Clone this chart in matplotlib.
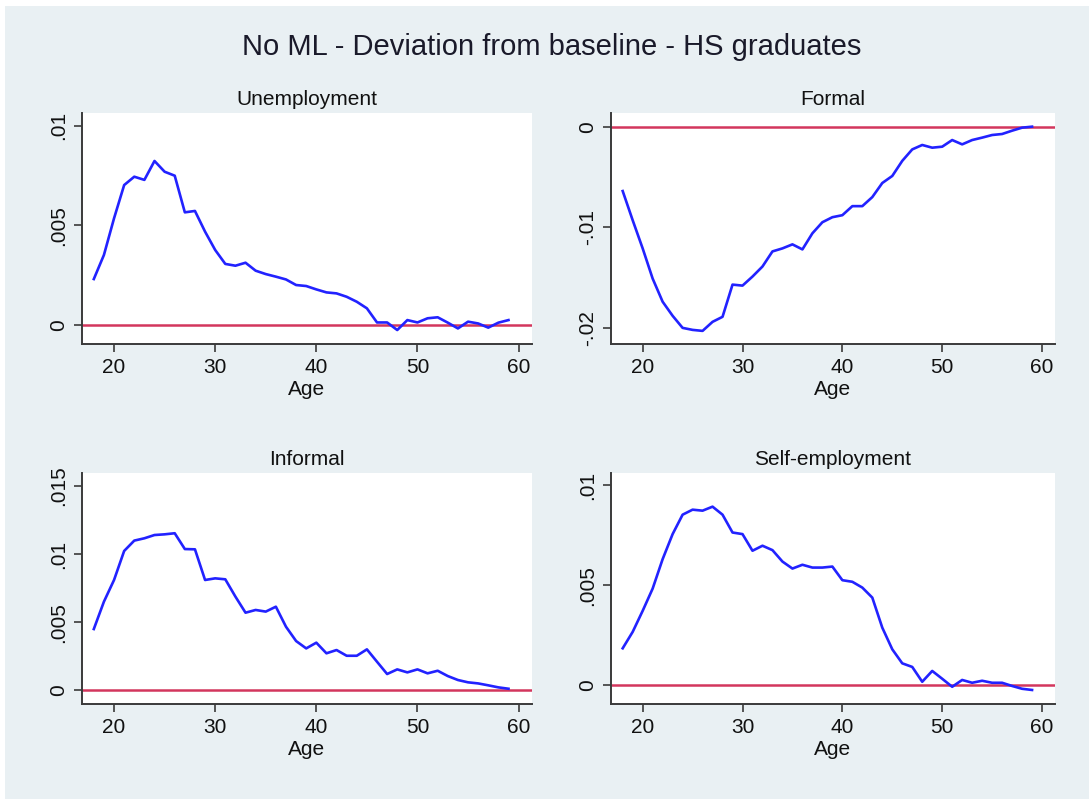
import matplotlib
matplotlib.use("Agg")
import matplotlib.pyplot as plt
from matplotlib.patches import Rectangle
from matplotlib.ticker import FuncFormatter

plt.rcParams['font.family'] = ['Liberation Sans', 'DejaVu Sans']

ages = list(range(18, 60))

unemployment = [0.00231, 0.00352, 0.00536, 0.00703, 0.00745, 0.00729, 0.00824, 0.00770,
                0.00750, 0.00566, 0.00573, 0.00469, 0.00377, 0.00307, 0.00298, 0.00313,
                0.00273, 0.00256, 0.00243, 0.00229, 0.00201, 0.00196, 0.00179, 0.00164,
                0.00159, 0.00142, 0.00117, 0.00084, 0.00013, 0.00013, -0.00025, 0.00025,
                0.00013, 0.00034, 0.00039, 0.00012, -0.00017, 0.00017, 0.00008, -0.00013,
                0.00012, 0.00025]

formal = [-0.0064, -0.0093, -0.0121, -0.0151, -0.0174, -0.0188, -0.0200, -0.0202,
          -0.0203, -0.0194, -0.0189, -0.0157, -0.0158, -0.0149, -0.0139, -0.0124,
          -0.0121, -0.0117, -0.0122, -0.0106, -0.0095, -0.0090, -0.0088, -0.0079,
          -0.0079, -0.0070, -0.0056, -0.0049, -0.0034, -0.00226, -0.00182, -0.00209,
          -0.00199, -0.00133, -0.00176, -0.00133, -0.00109, -0.00083, -0.00073, -0.0004,
          -0.0001, 0.0]

informal = [0.0045, 0.00651, 0.0081, 0.01023, 0.01099, 0.01116, 0.0114, 0.01145,
            0.01153, 0.01037, 0.01035, 0.0081, 0.00822, 0.00815, 0.00688, 0.0057,
            0.0059, 0.00578, 0.00614, 0.00467, 0.00362, 0.00308, 0.0035, 0.00272,
            0.00296, 0.00254, 0.00254, 0.00301, 0.0021, 0.0012, 0.00154, 0.00132,
            0.00154, 0.00125, 0.00144, 0.00105, 0.00076, 0.00059, 0.00051, 0.00037,
            0.00022, 0.00012]

self_employment = [0.00185, 0.00267, 0.00372, 0.00483, 0.0063, 0.00755, 0.00852, 0.00877,
                   0.00872, 0.00892, 0.00852, 0.00763, 0.00755, 0.00672, 0.00697, 0.00675,
                   0.00618, 0.00583, 0.00602, 0.00588, 0.00588, 0.00593, 0.00525, 0.00517,
                   0.00488, 0.00438, 0.00288, 0.0018, 0.0011, 0.00092, 0.00018, 0.00072,
                   0.00033, -0.00007, 0.00027, 0.00013, 0.00023, 0.00013, 0.00013, -0.00003,
                   -0.00017, -0.00023]

titles = ["Unemployment", "Formal", "Informal", "Self-employment"]
series = [unemployment, formal, informal, self_employment]
yticks = [[0, 0.005, 0.01], [-0.02, -0.01, 0], [0, 0.005, 0.01, 0.015], [0, 0.005, 0.01]]
ylims = [(-0.00095, 0.01065), (-0.0216, 0.00136), (-0.001, 0.01595), (-0.00093, 0.0106)]
xticks = [20, 30, 40, 50, 60]
xlim = (16.8, 61.3)

BG = '#e9f0f3'
BLUE = '#2222ff'
RED = '#d3365d'
AXC = '#3a3a3a'

fig = plt.figure(figsize=(10.89, 7.99), dpi=100)
fig.patch.set_facecolor('white')
fig.patches.append(Rectangle((5 / 1089, 0), 1 - 5 / 1089, 1 - 6 / 799,
                             transform=fig.transFigure, facecolor=BG,
                             edgecolor='none', zorder=-10))

positions = [
    (0.075, 0.5695, 0.4133, 0.2891),
    (0.5608, 0.5695, 0.4080, 0.2891),
    (0.075, 0.1189, 0.4133, 0.2891),
    (0.5608, 0.1189, 0.4080, 0.2891),
]


def fmt(v, _pos):
    if abs(v) < 1e-12:
        return "0"
    s = ("%g" % v)
    return s.replace("0.", ".")


for pos, title, ys, yt, yl in zip(positions, titles, series, yticks, ylims):
    ax = fig.add_axes(pos)
    ax.set_facecolor('white')
    ax.axhline(0, color=RED, lw=1.8, zorder=2)
    ax.plot(ages, ys, color=BLUE, lw=1.9, zorder=3)
    ax.set_xlim(*xlim)
    ax.set_ylim(*yl)
    ax.set_xticks(xticks)
    ax.set_yticks(yt)
    ax.yaxis.set_major_formatter(FuncFormatter(fmt))
    for side in ('top', 'right'):
        ax.spines[side].set_visible(False)
    for side in ('left', 'bottom'):
        ax.spines[side].set_color(AXC)
        ax.spines[side].set_linewidth(1.4)
    ax.tick_params(direction='out', length=6, width=1.2, color=AXC,
                   labelsize=15, pad=4, labelcolor='#111111')
    for lab in ax.get_yticklabels():
        lab.set_rotation(90)
        lab.set_va('center')
    ax.set_xlabel("Age", fontsize=15, labelpad=2, color='#111111')
    ax.set_title(title, fontsize=15, pad=6, color='#111111')

fig.text(0.507, 0.941, "No ML - Deviation from baseline - HS graduates",
         ha='center', va='center', fontsize=21, color='#1a1a2a')

fig.savefig("out.png", dpi=100, facecolor=fig.get_facecolor())
